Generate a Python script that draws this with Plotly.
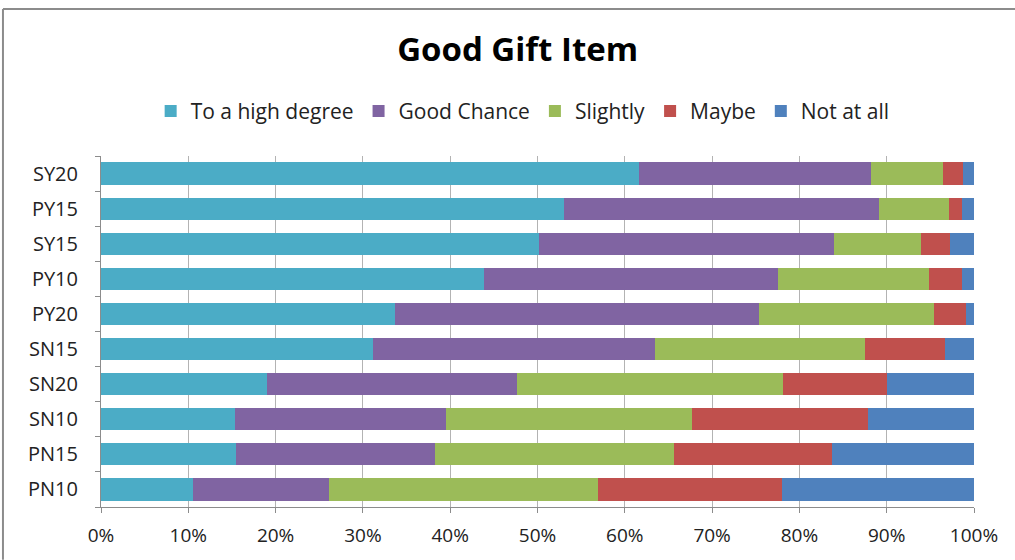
import plotly.graph_objects as go

categories = ["SY20", "PY15", "SY15", "PY10", "PY20", "SN15", "SN20", "SN10", "PN15", "PN10"]

high_degree = [61.6, 53.0, 50.2, 43.9, 33.7, 31.2, 19.0, 15.4, 15.5, 10.5]
good_chance = [26.6, 36.1, 33.8, 33.7, 41.7, 32.3, 28.6, 24.1, 22.8, 15.6]
slightly = [8.3, 8.0, 9.9, 17.3, 20.0, 24.0, 30.5, 28.2, 27.3, 30.8]
maybe = [2.2, 1.5, 3.3, 3.7, 3.7, 9.2, 11.9, 20.2, 18.1, 21.1]
not_at_all = [1.3, 1.4, 2.8, 1.4, 0.9, 3.3, 10.0, 12.1, 16.3, 22.0]

x_ticks = [0, 10, 20, 30, 40, 50, 60, 70, 80, 90, 100]

series = [
    ("To a high degree", high_degree, "#4BACC6"),
    ("Good Chance", good_chance, "#8064A2"),
    ("Slightly", slightly, "#9BBB59"),
    ("Maybe", maybe, "#C0504D"),
    ("Not at all", not_at_all, "#4F81BD"),
]

FONT = "Open Sans"

fig = go.Figure()
for name, vals, color in series:
    fig.add_trace(go.Bar(
        y=categories, x=vals, name=name, orientation="h",
        marker=dict(color=color, line=dict(width=0)),
    ))

fig.update_layout(
    width=1015, height=560,
    barmode="stack", bargap=0.37,
    paper_bgcolor="white", plot_bgcolor="white",
    margin=dict(l=101, r=41, t=156, b=51),
    font=dict(family=FONT, size=18, color="#222"),
    title=dict(text="<b>Good Gift Item</b>", x=0.51, xref="container", xanchor="center",
               y=0.911, yanchor="middle", font=dict(family=FONT, size=33, color="black")),
    legend=dict(orientation="h", x=0.483, xanchor="center", y=1.127, yanchor="middle",
                font=dict(family=FONT, size=21, color="#222"), traceorder="normal",
                itemwidth=30, bgcolor="rgba(0,0,0,0)"),
    showlegend=True,
)

fig.update_xaxes(
    range=[0, 100], tickvals=x_ticks, ticktext=[f"{v}%" for v in x_ticks],
    tickfont=dict(size=19),
    showgrid=True, gridcolor="#b3b3b3", gridwidth=1,
    showline=True, linecolor="#8c8c8c", linewidth=1,
    ticks="outside", ticklen=5, tickcolor="#8c8c8c", ticklabelstandoff=6,
    zeroline=False, fixedrange=True,
)
fig.update_yaxes(
    categoryorder="array", categoryarray=categories[::-1],
    tickfont=dict(size=20),
    showline=True, linecolor="#8c8c8c", linewidth=1,
    ticks="outside", ticklen=5, tickcolor="#8c8c8c", tickson="boundaries",
    ticklabelstandoff=18, showgrid=False, fixedrange=True,
)

# outer chart frame: only its left and top edges fall inside the canvas
frame = dict(color="#8c8c8c", width=2)
fig.add_shape(type="line", xref="paper", yref="paper",
              x0=-0.1123, x1=-0.1123, y0=-0.15, y1=1.419, line=frame, layer="above")
fig.add_shape(type="line", xref="paper", yref="paper",
              x0=-0.1123, x1=1.047, y0=1.419, y1=1.419, line=frame, layer="above")

fig.write_html("out.html", config={"displayModeBar": False})
